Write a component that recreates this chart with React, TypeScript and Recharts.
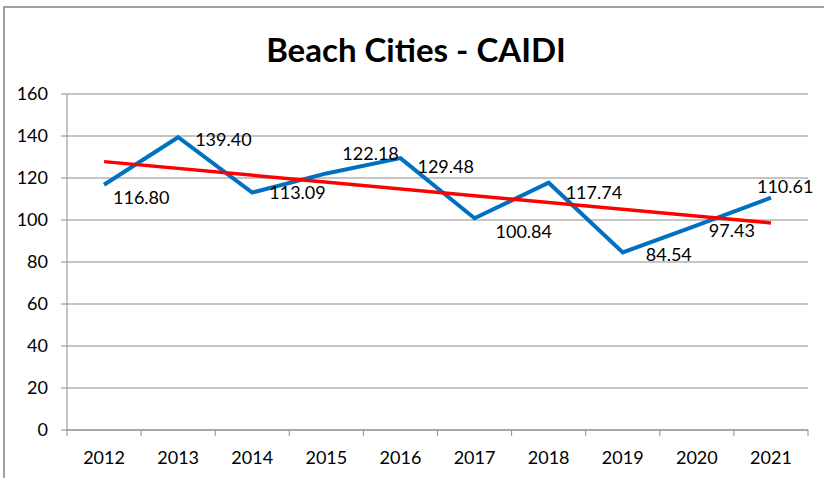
import { LineChart, Line, XAxis, YAxis, CartesianGrid, LabelList } from 'recharts'

const years = ['2012', '2013', '2014', '2015', '2016', '2017', '2018', '2019', '2020', '2021']
const caidi = [116.8, 139.4, 113.09, 122.18, 129.48, 100.84, 117.74, 84.54, 97.43, 110.61]
// trend line: only its two ends are drawn
const trend = [127.8, null, null, null, null, null, null, null, null, 98.6]
const yTicks = [0, 20, 40, 60, 80, 100, 120, 140, 160]

// where each data label sits relative to its point (Excel moved some of them)
const labelNudge: [number, number][] = [
  [9, 13], [17, 2], [17, 0], [16, -20], [17, 9],
  [21, 13], [17, 10], [23, 2], [12, 5], [-14, -11],
]

const W = 824
const H = 478
const PLOT_LEFT = 67
const PLOT_RIGHT = 808
const FONT = 'Lato, "Open Sans", sans-serif'
const AXIS = '#8c8c8c'

const data = years.map((year, i) => ({
  pos: i + 0.5,
  year,
  caidi: caidi[i],
  trend: trend[i],
}))

const halfBand = (PLOT_RIGHT - PLOT_LEFT) / years.length / 2

function YearTick(props: any) {
  const { x, y, payload } = props
  const idx = payload.value
  if (idx >= years.length) return null
  return (
    <text
      x={x + halfBand}
      y={y + 20}
      dy="0.355em"
      textAnchor="middle"
      fontFamily={FONT}
      fontSize={18}
      fill="#000"
    >
      {years[idx]}
    </text>
  )
}

function ValueLabel(props: any) {
  const { x, y, value, index } = props
  const [dx, dy] = labelNudge[index] ?? [10, 0]
  return (
    <text
      x={x + dx}
      y={y + dy}
      dy="0.355em"
      textAnchor="start"
      fontFamily={FONT}
      fontSize={18}
      fill="#000"
    >
      {Number(value).toFixed(2)}
    </text>
  )
}

export default function App() {
  return (
    <div style={{ position: 'absolute', left: 0, top: 0, width: W, height: H, overflow: 'hidden', background: '#fff' }}>
      <div
        style={{
          position: 'absolute',
          left: 3,
          top: 6,
          width: W + 20,
          height: H + 20,
          borderLeft: '2px solid #a0a0a0',
          borderTop: '2px solid #a0a0a0',
        }}
      />
      <div
        style={{
          position: 'absolute',
          left: 0,
          top: 28,
          width: 832,
          textAlign: 'center',
          fontFamily: FONT,
          fontWeight: 700,
          fontSize: 33,
          lineHeight: '42px',
          color: '#000',
        }}
      >
        Beach Cities - CAIDI
      </div>
      <div style={{ position: 'absolute', left: 0, top: 0 }}>
        <LineChart width={W} height={H} data={data} margin={{ top: 94, right: W - PLOT_RIGHT, bottom: 0, left: 7 }}>
          <CartesianGrid vertical={false} stroke={AXIS} strokeWidth={1.2} />
          <XAxis
            dataKey="pos"
            type="number"
            domain={[0, years.length]}
            ticks={years.map((_, i) => i).concat(years.length)}
            interval={0}
            height={48}
            stroke={AXIS}
            tickSize={6}
            tick={<YearTick />}
          />
          <YAxis
            domain={[0, 160]}
            ticks={yTicks}
            width={60}
            stroke={AXIS}
            tickSize={6}
            tickMargin={13}
            tick={{ fontFamily: FONT, fontSize: 18, fill: '#000' }}
          />
          <Line
            type="linear"
            dataKey="caidi"
            stroke="#0070C0"
            strokeWidth={4}
            dot={false}
            isAnimationActive={false}
          >
            <LabelList dataKey="caidi" content={<ValueLabel />} />
          </Line>
          <Line
            type="linear"
            dataKey="trend"
            stroke="#FF0000"
            strokeWidth={3.5}
            dot={false}
            connectNulls
            isAnimationActive={false}
          />
        </LineChart>
      </div>
    </div>
  )
}
